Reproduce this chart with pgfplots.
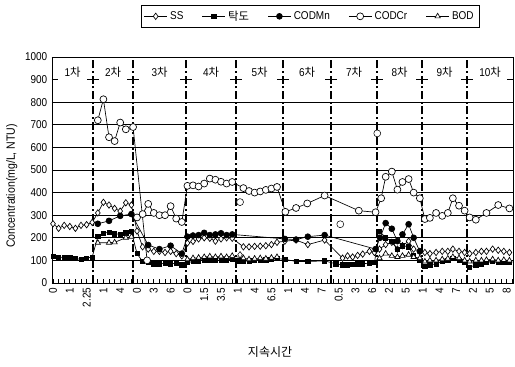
\documentclass[border=0pt]{standalone}
\usepackage{pgfplots}
\pgfplotsset{compat=1.18}
\usepackage{fontspec}
\setmainfont{Liberation Sans}[FakeStretch=0.88]
\newfontfamily\kr{Noto Sans CJK KR}
\begin{document}
\begin{tikzpicture}
\useasboundingbox (-39pt,-63pt) rectangle (347.25pt,212.25pt);
\begin{axis}[
  at={(0pt,0pt)}, anchor=south west,
  scale only axis, width=345.75pt, height=169.5pt,
  xmin=-0.18, xmax=82.14, ymin=0, ymax=1000,
  ytick={0,100,...,1000},
  ymajorgrids, major grid style={black, line width=0.5pt},
  xtick={0,3,...,81},
  xticklabels={0,1,2.25,1,4,0,3,6,0,1.5,3.5,1,4,6.5,1,4,7,0.5,3,6,2,5,1,4,7,2,5,8},
  minor xtick={0,...,82},
  xtick pos=bottom, ytick pos=left,
  tick align=inside,
  major tick length=3pt, minor tick length=3pt,
  every tick/.style={black, line width=0.5pt},
  x tick label style={rotate=90, anchor=east, font=\fontsize{8.5}{9}\selectfont},
  y tick label style={font=\fontsize{8.5}{9}\selectfont, /pgf/number format/1000 sep={}},
  /pgf/number format/assume math mode=true,
  /pgf/number format/1000 sep={},
  axis line style={black, line width=0.6pt},
  unbounded coords=jump,
  xlabel={\kr 지속시간},
  every axis x label/.style={at={(rel axis cs:0.473,-0.305)}, anchor=center, font=\fontsize{9}{10}\selectfont},
  ylabel={Concentration(mg/L, NTU)},
  every axis y label/.style={at={(rel axis cs:-0.087,0.43)}, rotate=90, anchor=center, font=\fontsize{9}{10}\selectfont},
  legend columns=5,
  legend style={at={(0.56,1.18)}, anchor=center, draw=black, line width=0.5pt,
    font=\fontsize{8.5}{10}\selectfont, inner sep=2pt,
    /tikz/every even column/.append style={column sep=12pt}},
  legend cell align=left,
]
% SS
\addplot[black, line width=0.5pt, mark=diamond*, mark size=2.4pt, mark options={fill=white, solid}] coordinates {
(0,262)(1,242)(2,255)(3,250)(4,242)(5,255)(6,258)(7,268)(8,310)(9,357)(10,345)(11,330)(12,318)(13,355)(14,345)
(15,230)(16,160)(17,150)(18,140)(19,140)(20,135)(21,140)(22,130)(23,120)(24,177)(25,184)(26,195)(27,200)(28,198)(29,185)(30,195)(31,200)(32,198)
(34,160)(35,160)(36,162)(37,163)(38,165)(39,170)(40,180)(41.4,185)(43.4,190)(45.5,170)(48.5,190)
(51.7,110)(52.6,120)(53.5,115)(54.4,122)(55.3,128)(56.5,140)(57.4,135)(58.3,150)(59.4,170)(60.5,180)(61.5,150)(62.4,165)(63.5,185)(64.4,150)(65.5,140)
(66.4,135)(67.3,130)(68.4,135)(69.5,140)(70.5,140)(71.4,150)(72.5,140)(73.5,135)(74.4,130)(75.5,135)(76.5,140)(77.4,140)(78.5,150)(79.5,145)(80.5,140)(81.5,135)};
\addlegendentry{SS}
% turbidity
\addplot[black, line width=0.5pt, mark=square*, mark size=1.6pt] coordinates {
(0,118)(1,112)(2,115)(3,113)(4,108)(5,105)(6,110)(7,115)(8,205)(9,220)(10,225)(11,218)(12,215)(13,222)(14,228)
(15,130)(16,95)(17,90)(18,85)(19,85)(20,88)(21,85)(22,88)(23,80)(24,90)(25,95)(26,98)(27,100)(28,100)(29,102)(30,100)(31,103)(32,105)
(33,98)(34,96)(35,98)(36,100)(37,100)(38,102)(39,105)(40,108)(41.4,105)(43.4,95)(45.5,95)(48.5,98)
(50.5,85)(51.7,80)(52.6,80)(53.5,82)(54.4,85)(55.3,85)(56.5,88)(57.4,90)(58.3,230)(59.4,200)(60.5,185)(61.5,150)(62.4,165)(63.5,160)(64.4,120)(65.5,100)
(66.4,75)(67.3,80)(68.4,85)(69.5,95)(70.5,100)(71.4,110)(72.5,100)(73.5,90)(74.4,70)(75.5,80)(76.5,85)(77.4,90)(78.5,95)(79.5,90)(80.5,92)(81.5,90)};
\addlegendentry{\kr 탁도}
% CODMn
\addplot[black, line width=0.5pt, mark=*, mark size=2.2pt] coordinates {
(8,262)(10,275)(12,297)(14,305)(17,168)(19,150)(21,165)(23,130)
(24,205)(25,210)(26,212)(27,222)(28,212)(29,215)(30,220)(31,212)(32,215)
(41.4,195)(43.4,192)(45.5,205)(48.5,212)(57.6,150)
(58.4,200)(59.4,265)(60.5,240)(61.5,185)(62.4,215)(63.5,260)(64.4,200)(65.5,140)};
\addlegendentry{CODMn}
% CODCr
\addplot[black, line width=0.5pt, mark=*, mark size=2.6pt, mark options={fill=white, solid}] coordinates {
(8,720)(9,813)(10,645)(11,628)(12,710)(13,680)(14.3,690)(16.8,100)(16.9,nan)
(15,290)(16,305)(17,350)(18,310)(19,300)(20,300)(21,340)(22,285)(23,270)
(24,430)(25,432)(26,427)(27,440)(28,462)(29,457)(30,448)(31,440)(32,447)
(34,420)(35,407)(36,400)(37,405)(38,412)(39,418)(40,425)
(41.5,315)(43.4,332)(45.4,352)(48.5,387)(54.6,320)(57.6,313)
(58.6,375)(59.4,470)(60.5,493)(61.5,413)(62.4,447)(63.5,460)(64.4,400)(65.5,375)
(66.4,283)(67.3,288)(68.4,310)(69.5,297)(70.5,310)(71.4,375)(72.5,342)(73.5,320)(74.4,290)(75.5,280)(77.4,310)(79.5,345)(81.5,330)};
\addlegendentry{CODCr}
% BOD
\addplot[black, line width=0.5pt, mark=triangle*, mark size=2.3pt, mark options={fill=white, solid}] coordinates {
(8,178)(10,178)(11,180)(13,200)(14,205)(14.5,nan)
(24,105)(25,110)(26,112)(27,115)(28,118)(29,115)(30,118)(31,115)(32,120)
(34,110)(35,105)(36,108)(37,110)(38,108)(39,112)(40,115)(40.5,nan)
(58.3,110)(59.4,130)(60.5,120)(61.5,115)(62.4,120)(63.5,125)(64.4,115)(65.5,110)
(66.4,95)(67.3,100)(68.4,100)(69.5,105)(70.5,108)(71.4,115)(72.5,110)(73.5,100)(74.4,95)(75.5,100)(76.5,100)(77.4,102)(78.5,105)(79.5,100)(80.5,102)(81.5,100)};
\addlegendentry{BOD}
% isolated points
\addplot[forget plot, only marks, black, mark=diamond*, mark size=2.4pt, mark options={fill=white}] coordinates {(33.4,125)};
\addplot[forget plot, only marks, black, mark=*, mark size=2.6pt, mark options={fill=white}] coordinates {(33.4,358)(51.3,260)(57.9,662)};
% stage label boxes
\foreach \a/\b/\t in {-0.18/7.14/1, 7.14/14.29/2, 14.29/23.75/3, 23.75/32.68/4, 32.68/41.07/5, 41.07/49.64/6, 49.64/57.86/7, 57.86/65.9/8, 65.9/73.93/9, 73.93/82.14/10}{
  \edef\temp{\noexpand\fill[white] (axis cs:\a+1.1,850) rectangle (axis cs:\b-1.1,985);
  \noexpand\node[font=\noexpand\fontsize{8.5}{9}\noexpand\selectfont] at (axis cs:{(\a+\b)/2},934) {\t{\noexpand\kr 차}};}
  \temp
}
\foreach \s in {7.14,14.29,23.75,32.68,41.07,49.64,57.86,65.9,73.93}{
  \edef\temp{\noexpand\draw[black, line width=1.1pt, dash pattern=on 6pt off 2pt on 1.5pt off 2pt] (axis cs:\s,0) -- (axis cs:\s,1000);}
  \temp
}
\end{axis}
\end{tikzpicture}
\end{document}
